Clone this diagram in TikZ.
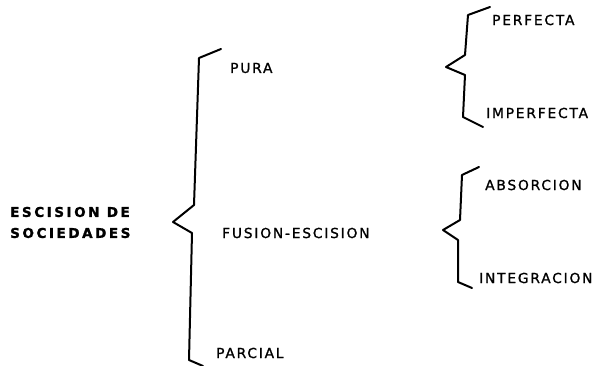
\documentclass[tikz,border=0pt]{standalone}
\usepackage{fontspec}
\setmainfont{DejaVu Sans}
\newfontfamily\lblfont[LetterSpace=13,FakeBold=1.2]{DejaVu Sans}
\newfontfamily\headfont[LetterSpace=19,FakeBold=1.5]{DejaVu Sans Bold}
\begin{document}
\begin{tikzpicture}[x=1pt,y=-1pt,
  lbl/.style={anchor=west,inner sep=0pt,font=\lblfont\fontsize{13.8}{15}\selectfont},
  head/.style={anchor=west,inner sep=0pt,font=\headfont\fontsize{13.5}{15}\selectfont},
  brace/.style={line width=2pt,line join=round,line cap=round}]
\useasboundingbox (0,0) rectangle (613,366);

% titles and branch labels
\node[head] (title1) at (10,212) {ESCISION DE};
\node[head] (title2) at (10,233) {SOCIEDADES};
\node[lbl] (pura) at (230,68) {PURA};
\node[lbl] (fusion) at (222,233) {FUSION-ESCISION};
\node[lbl] (parcial) at (216,353) {PARCIAL};
\node[lbl] (perf) at (492,20) {PERFECTA};
\node[lbl] (imperf) at (486,113) {IMPERFECTA};
\node[lbl] (absor) at (485,185) {ABSORCION};
\node[lbl] (integ) at (479,278) {INTEGRACION};

% main brace
\draw[brace] (221,49) -- (199,58) -- (194,205) -- (173,222) -- (192,233)
  -- (189,360) -- (203,366);
% brace for PURA
\draw[brace] (490,7) -- (468,15) -- (465,55) -- (446,67) -- (465,75)
  -- (463,117) -- (483,127);
% brace for FUSION-ESCISION
\draw[brace] (479,167) -- (462,175) -- (460,220) -- (443,230) -- (458,240)
  -- (458,282) -- (472,288);
\end{tikzpicture}
\end{document}
